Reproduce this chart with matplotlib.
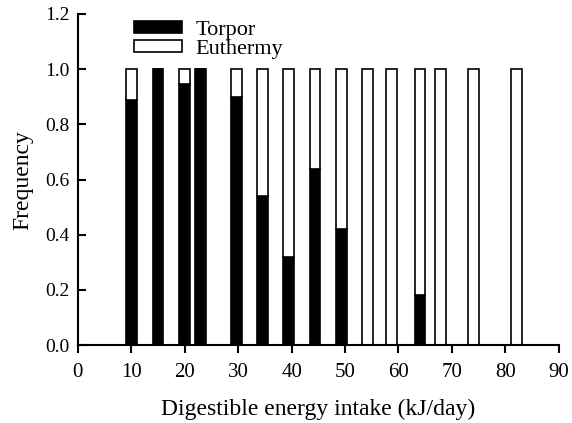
import numpy as np
import matplotlib
matplotlib.use('Agg')
import matplotlib.pyplot as plt

intake = [10, 15, 20, 23, 29.7, 34.6, 39.4, 44.4, 49.3, 54.2, 58.7, 64, 67.9, 74, 82.1]
torpor = [0.89, 1.0, 0.945, 1.0, 0.90, 0.54, 0.32, 0.64, 0.42, 0, 0, 0.18, 0, 0, 0]
euthermy = [1 - t for t in torpor]

plt.rcParams['font.family'] = ['Liberation Serif', 'DejaVu Serif']
plt.rcParams['font.size'] = 14

fig = plt.figure(figsize=[5.72, 4.23], dpi=100)
ax = fig.add_axes([0.136, 0.184, 0.841, 0.783])

ax.bar(intake, torpor, width=2.0, color='black', edgecolor='black', linewidth=1.2, label='Torpor')
ax.bar(intake, euthermy, width=2.0, bottom=torpor, color='white', edgecolor='black',
	linewidth=1.2, label='Euthermy')

ax.set_xlim(0, 90)
ax.set_ylim(0, 1.2)
ax.set_xticks(np.arange(0, 91, 10))
ax.set_yticks(np.arange(0, 1.21, 0.2))
ax.set_yticklabels(['%.1f' % v for v in np.arange(0, 1.21, 0.2)])
ax.spines['top'].set_visible(False)
ax.spines['right'].set_visible(False)
ax.spines['left'].set_linewidth(1.5)
ax.spines['bottom'].set_linewidth(1.5)
ax.tick_params(axis='x', direction='out', length=6, width=1.5, pad=7, labelsize=15)
ax.tick_params(axis='y', direction='in', length=6, width=1.5, pad=6, labelsize=14)

ax.set_xlabel('Digestible energy intake (kJ/day)', fontsize=17, labelpad=12)
ax.set_ylabel('Frequency', fontsize=17, labelpad=8)

ax.legend(loc='upper left', bbox_to_anchor=(0.116, 0.98), frameon=False, fontsize=16,
	handlelength=2.2, handleheight=0.45, labelspacing=0.0, handletextpad=0.6,
	borderpad=0, borderaxespad=0)

plt.savefig('out.png')
